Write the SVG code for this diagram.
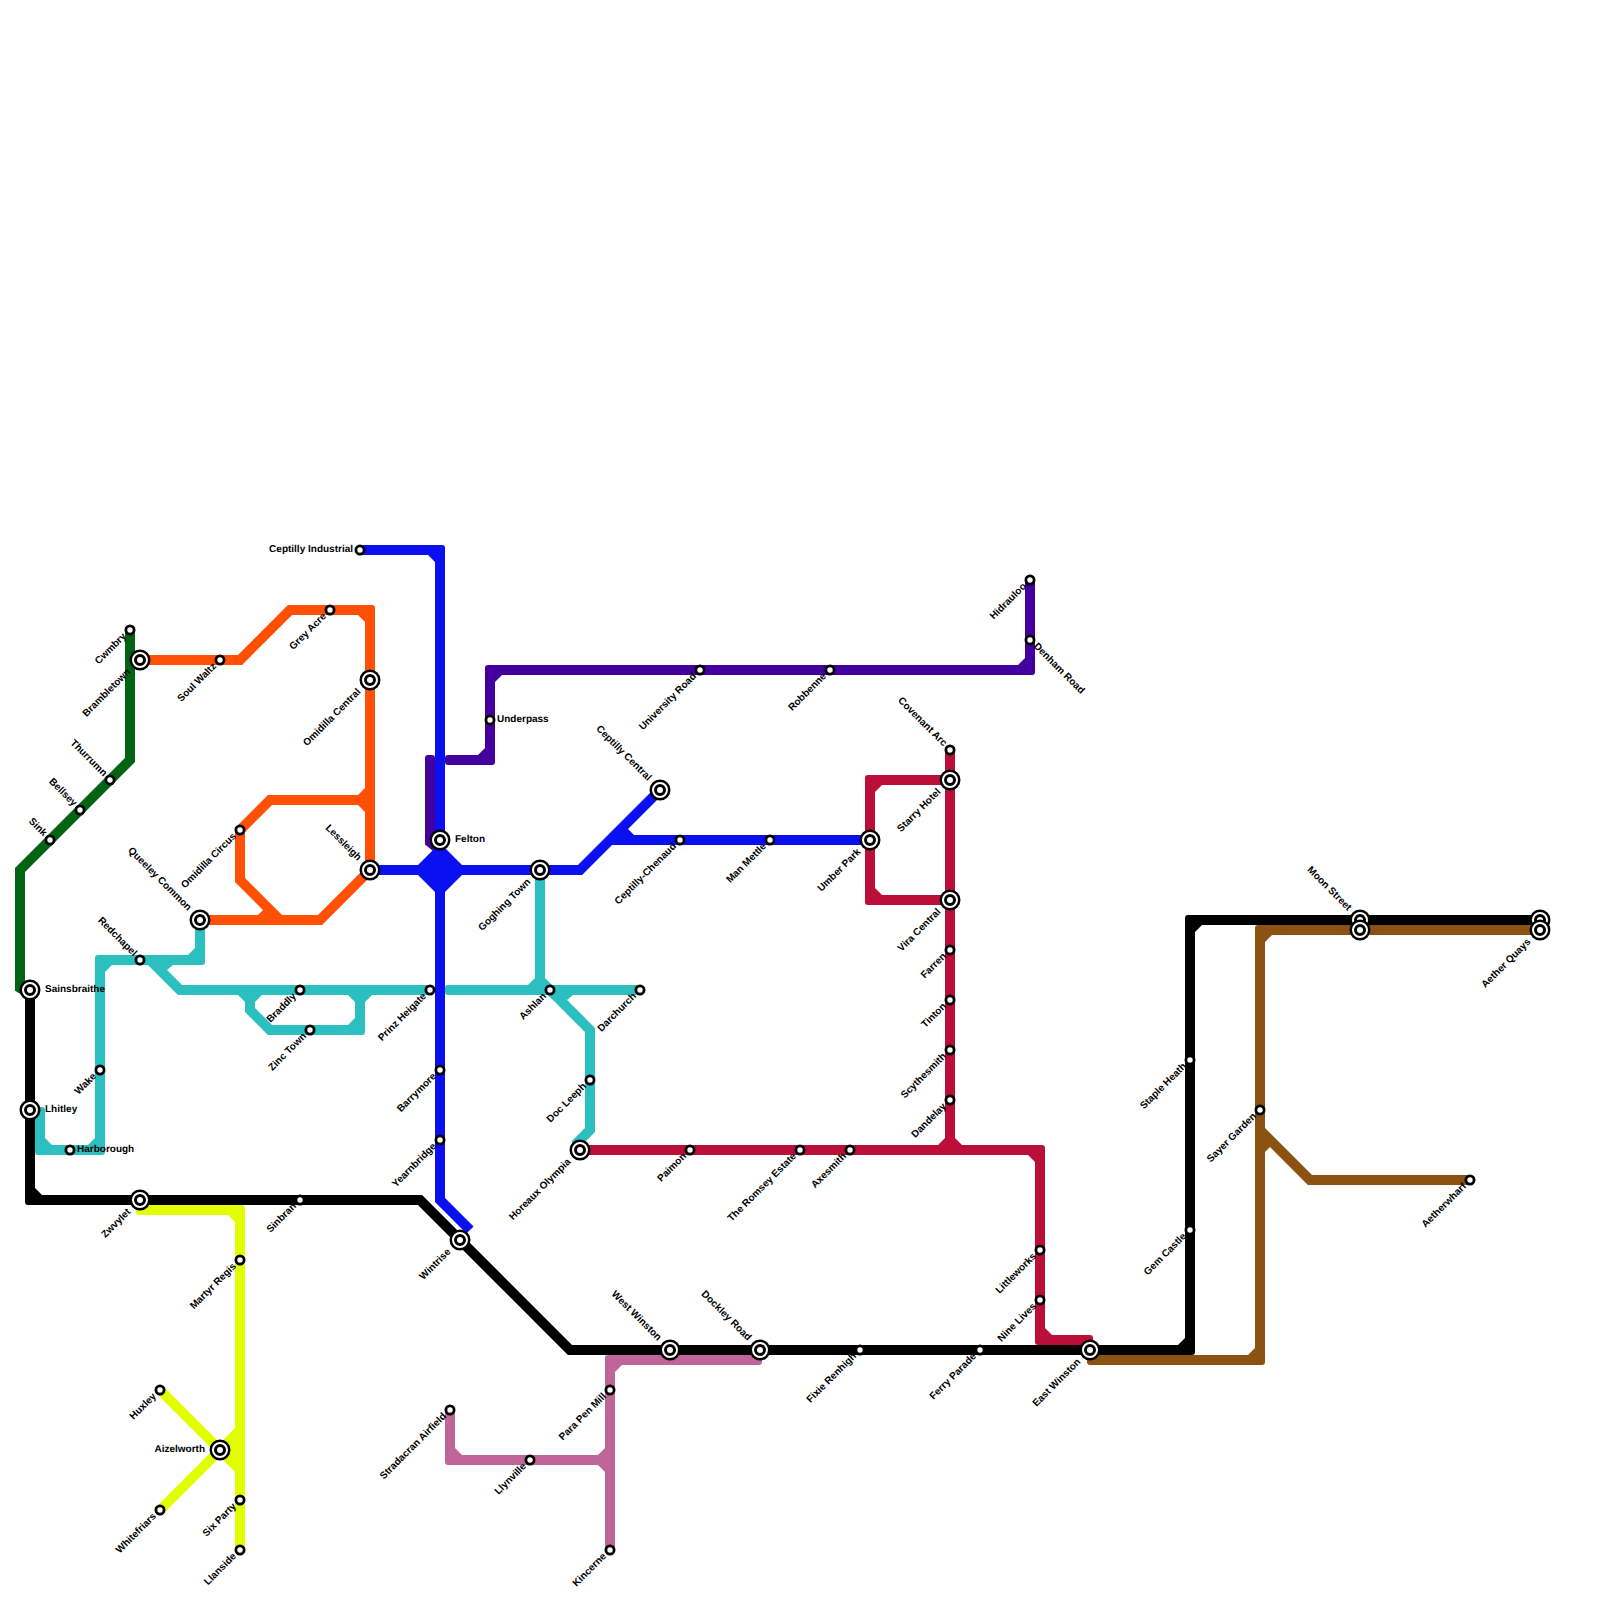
<svg xmlns="http://www.w3.org/2000/svg" width="1600" height="1600" viewBox="0 0 1600 1600">
<style>
.ln path{fill:none;stroke-width:10;stroke-linejoin:miter;stroke-linecap:butt}
.ln polygon{stroke:none}
.ln use{stroke:none}
.green{stroke:#006414;fill:#006414}
.orange{stroke:#ff5005;fill:#ff5005}
.teal{stroke:#2bbfc0;fill:#2bbfc0}
.blue{stroke:#0a10f0;fill:#0a10f0}
.purple{stroke:#44009f;fill:#44009f}
.crimson{stroke:#bb0f3a;fill:#bb0f3a}
.black{stroke:#000;fill:#000}
.brown{stroke:#8b5212;fill:#8b5212}
.lime{stroke:#e1ff00;fill:#e1ff00}
.pink{stroke:#c0659a;fill:#c0659a}
.st circle{fill:#fff;stroke:#000}
.st .o{stroke-width:2.5}
.st .i{stroke-width:3}
.sm circle{fill:#fff;stroke:#000;stroke-width:2.8}
text{font-family:"Liberation Sans",Arial,sans-serif;font-size:10px;font-weight:700;fill:#000;dominant-baseline:central;text-rendering:geometricPrecision}
.e{text-anchor:end}
.s{text-anchor:start}
</style>
<defs>
<g id="big" class="st"><circle class="o" r="9.25"/><circle class="i" r="4.5"/></g>
<g id="small" class="sm"><circle r="4.1"/></g>
<rect id="c" x="-5" y="-5" width="10" height="10" rx="3" stroke="none"/>
</defs>
<rect width="1600" height="1600" fill="#fff"/>
<g id="connectors">
<g class="ln lime"><path d="M141 1210H240M240 1210V1550"/><path d="M160 1390L220 1450L160 1510"/><use href="#c" x="141" y="1210"/><use href="#c" x="240" y="1210"/><polygon points="228,1215 235,1222 235,1215"/><polygon points="235,1428 213,1450 235,1472"/></g>
<g class="ln pink"><path d="M757 1360H610M610 1360V1550"/><path d="M450 1410V1460M450 1460H610"/><use href="#c" x="757" y="1360"/><use href="#c" x="610" y="1360"/><use href="#c" x="450" y="1460"/><polygon points="615,1372 622,1365 615,1365"/><polygon points="455,1448 462,1455 455,1455"/><polygon points="598,1455 605,1448 605,1455"/><polygon points="598,1465 605,1472 605,1465"/></g>
<g class="ln green"><path d="M130 630V760L20 870V988L30 994"/></g>
<g class="ln orange"><path d="M140 660H240L290 610H370M370 610V870"/><path d="M370 800H270L240 830V880L280 920"/><path d="M200 920H320L370 870"/><use href="#c" x="370" y="610"/><polygon points="358,615 365,622 365,615"/><polygon points="358,795 365,788 365,795"/><polygon points="358,805 365,812 365,805"/><polygon points="258,915 265,908 270,915"/></g>
<g class="ln purple"><path d="M430 760V842L440 850"/><path d="M450 760H490M490 760V670M490 670H1030M1030 670V580"/><use href="#c" x="430" y="760"/><use href="#c" x="450" y="760"/><use href="#c" x="490" y="760"/><use href="#c" x="490" y="670"/><use href="#c" x="1030" y="670"/><polygon points="478,755 485,748 485,755"/><polygon points="495,682 502,675 495,675"/><polygon points="1018,665 1025,658 1025,665"/></g>
<g class="ln teal"><path d="M200 920V960M200 960H100M100 960V1150M100 1150H40M40 1150V1112"/><path d="M150 960L180 990H430"/><path d="M250 990V1010L270 1030H360M360 1030V990"/><path d="M450 990H640"/><path d="M540 870V980L590 1030V1130L575 1145"/><use href="#c" x="200" y="960"/><use href="#c" x="100" y="960"/><use href="#c" x="100" y="1150"/><use href="#c" x="40" y="1150"/><use href="#c" x="40" y="1112"/><use href="#c" x="360" y="1030"/><use href="#c" x="450" y="990"/><polygon points="188,955 195,948 195,955"/><polygon points="105,972 112,965 105,965"/><polygon points="88,1145 95,1138 95,1145"/><polygon points="45,1138 52,1145 45,1145"/><polygon points="173,965 167,970 160,965"/><polygon points="238,995 245,1002 245,995"/><polygon points="262,995 255,1002 255,995"/><polygon points="348,995 355,1002 355,995"/><polygon points="372,995 365,1002 365,995"/><polygon points="348,1025 355,1018 355,1025"/><polygon points="528,985 535,978 541,985"/><polygon points="573,995 567,1000 560,995"/></g>
<g class="ln blue"><path d="M360 550H440M440 550V1200L470 1230"/><path d="M370 870H580L660 790"/><path d="M610 840H870"/><use href="#c" x="440" y="550"/><polygon points="428,555 435,562 435,555"/><polygon points="435,848 445,848 462,865 462,875 445,892 435,892 418,875 418,865"/><polygon points="627,828 634,835 618,835"/></g>
<g class="ln crimson"><path d="M950 750V1150"/><path d="M950 780H870M870 780V900M870 900H950"/><path d="M580 1150H1040M1040 1150V1340M1040 1340H1088"/><use href="#c" x="870" y="780"/><use href="#c" x="870" y="900"/><use href="#c" x="1040" y="1150"/><use href="#c" x="1040" y="1340"/><use href="#c" x="1088" y="1340"/><polygon points="875,792 882,785 875,785"/><polygon points="875,888 882,895 875,895"/><polygon points="938,1145 945,1138 945,1145"/><polygon points="962,1145 955,1138 955,1145"/><polygon points="1028,1155 1035,1162 1035,1155"/><polygon points="1045,1328 1052,1335 1045,1335"/></g>
<g class="ln black"><path d="M30 990V1200M30 1200H420L570 1350H1190M1190 1350V920M1190 920H1540"/><use href="#c" x="30" y="1200"/><use href="#c" x="1190" y="1350"/><use href="#c" x="1190" y="920"/><polygon points="35,1188 42,1195 35,1195"/><polygon points="1178,1345 1185,1338 1185,1345"/><polygon points="1195,932 1202,925 1195,925"/></g>
<g class="ln brown"><path d="M1092 1360H1260M1260 1360V930M1260 930H1540"/><path d="M1260 1130L1310 1180H1470"/><use href="#c" x="1092" y="1360"/><use href="#c" x="1260" y="1360"/><use href="#c" x="1260" y="930"/><polygon points="1248,1355 1255,1348 1255,1355"/><polygon points="1265,942 1272,935 1265,935"/><polygon points="1265,1142 1265,1152 1272,1145"/></g>
</g>
<g id="n-cwmbry"><use href="#small" x="130" y="630"/><text class="e" transform="translate(125 635) rotate(-45)">Cwmbry</text></g>
<g id="n-brambletown"><use href="#big" x="140" y="660"/><text class="e" transform="translate(129.4 670.6) rotate(-45)">Brambletown</text></g>
<g id="n-soul-waltz"><use href="#small" x="220" y="660"/><text class="e" transform="translate(215 665) rotate(-45)">Soul Waltz</text></g>
<g id="n-grey-acre"><use href="#small" x="330" y="610"/><text class="e" transform="translate(325 615) rotate(-45)">Grey Acre</text></g>
<g id="n-omidilla-central"><use href="#big" x="370" y="680"/><text class="e" transform="translate(359.4 690.6) rotate(-45)">Omidilla Central</text></g>
<g id="n-thurrumn"><use href="#small" x="110" y="780"/><text class="e" transform="translate(105 775) rotate(45)">Thurrumn</text></g>
<g id="n-bellsey"><use href="#small" x="80" y="810"/><text class="e" transform="translate(75 805) rotate(45)">Bellsey</text></g>
<g id="n-sink"><use href="#small" x="50" y="840"/><text class="e" transform="translate(45 835) rotate(45)">Sink</text></g>
<g id="n-omidilla-circus"><use href="#small" x="240" y="830"/><text class="e" transform="translate(235 835) rotate(-45)">Omidilla Circus</text></g>
<g id="n-lessleigh"><use href="#big" x="370" y="870"/><text class="e" transform="translate(359.4 859.4) rotate(45)">Lessleigh</text></g>
<g id="n-queeley-common"><use href="#big" x="200" y="920"/><text class="e" transform="translate(189.4 909.4) rotate(45)">Queeley Common</text></g>
<g id="n-redchapel"><use href="#small" x="140" y="960"/><text class="e" transform="translate(135 955) rotate(45)">Redchapel</text></g>
<g id="n-sainsbraithe"><use href="#big" x="30" y="990"/><text class="s" x="45" y="989.5">Sainsbraithe</text></g>
<g id="n-lhitley"><use href="#big" x="30" y="1110"/><text class="s" x="45" y="1109">Lhitley</text></g>
<g id="n-harborough"><use href="#small" x="70" y="1150"/><text class="s" x="77" y="1149">Harborough</text></g>
<g id="n-wake"><use href="#small" x="100" y="1070"/><text class="e" transform="translate(95 1075) rotate(-45)">Wake</text></g>
<g id="n-braddly"><use href="#small" x="300" y="990"/><text class="e" transform="translate(295 995) rotate(-45)">Braddly</text></g>
<g id="n-zinc-town"><use href="#small" x="310" y="1030"/><text class="e" transform="translate(305 1035) rotate(-45)">Zinc Town</text></g>
<g id="n-prinz-heigate"><use href="#small" x="430" y="990"/><text class="e" transform="translate(425 995) rotate(-45)">Prinz Heigate</text></g>
<g id="n-zwvylet"><use href="#big" x="140" y="1200"/><text class="e" transform="translate(129.4 1210.6) rotate(-45)">Zwvylet</text></g>
<g id="n-sinbran"><use href="#small" x="300" y="1200"/><text class="e" transform="translate(295 1205) rotate(-45)">Sinbran</text></g>
<g id="n-martyr-regis"><use href="#small" x="240" y="1260"/><text class="e" transform="translate(235 1265) rotate(-45)">Martyr Regis</text></g>
<g id="n-aizelworth"><use href="#big" x="220" y="1450"/><text class="e" x="205" y="1449">Aizelworth</text></g>
<g id="n-huxley"><use href="#small" x="160" y="1390"/><text class="e" transform="translate(155 1395) rotate(-45)">Huxley</text></g>
<g id="n-whitefriars"><use href="#small" x="160" y="1510"/><text class="e" transform="translate(155 1515) rotate(-45)">Whitefriars</text></g>
<g id="n-six-party"><use href="#small" x="240" y="1500"/><text class="e" transform="translate(235 1505) rotate(-45)">Six Party</text></g>
<g id="n-llanside"><use href="#small" x="240" y="1550"/><text class="e" transform="translate(235 1555) rotate(-45)">Llanside</text></g>
<g id="n-ceptilly-industrial"><use href="#small" x="360" y="550"/><text class="e" x="353" y="549">Ceptilly Industrial</text></g>
<g id="n-felton"><use href="#big" x="440" y="840"/><text class="s" x="455" y="839">Felton</text></g>
<g id="n-barrymore"><use href="#small" x="440" y="1070"/><text class="e" transform="translate(435 1075) rotate(-45)">Barrymore</text></g>
<g id="n-yearnbridge"><use href="#small" x="440" y="1140"/><text class="e" transform="translate(435 1145) rotate(-45)">Yearnbridge</text></g>
<g id="n-wintrise"><use href="#big" x="460" y="1240"/><text class="e" transform="translate(449.4 1250.6) rotate(-45)">Wintrise</text></g>
<g id="n-underpass"><use href="#small" x="490" y="720"/><text class="s" x="497" y="719">Underpass</text></g>
<g id="n-goghing-town"><use href="#big" x="540" y="870"/><text class="e" transform="translate(529.4 880.6) rotate(-45)">Goghing Town</text></g>
<g id="n-ashlan"><use href="#small" x="550" y="990"/><text class="e" transform="translate(545 995) rotate(-45)">Ashlan</text></g>
<g id="n-darchurch"><use href="#small" x="640" y="990"/><text class="e" transform="translate(635 995) rotate(-45)">Darchurch</text></g>
<g id="n-doc-leeph"><use href="#small" x="590" y="1080"/><text class="e" transform="translate(585 1085) rotate(-45)">Doc Leeph</text></g>
<g id="n-horeaux-olympia"><use href="#big" x="580" y="1150"/><text class="e" transform="translate(569.4 1160.6) rotate(-45)">Horeaux Olympia</text></g>
<g id="n-paimon"><use href="#small" x="690" y="1150"/><text class="e" transform="translate(685 1155) rotate(-45)">Paimon</text></g>
<g id="n-ceptilly-central"><use href="#big" x="660" y="790"/><text class="e" transform="translate(649.4 779.4) rotate(45)">Ceptilly Central</text></g>
<g id="n-ceptilly-chenaud"><use href="#small" x="680" y="840"/><text class="e" transform="translate(675 845) rotate(-45)">Ceptilly-Chenaud</text></g>
<g id="n-university-road"><use href="#small" x="700" y="670"/><text class="e" transform="translate(695 675) rotate(-45)">University Road</text></g>
<g id="n-man-mettle"><use href="#small" x="770" y="840"/><text class="e" transform="translate(765 845) rotate(-45)">Man Mettle</text></g>
<g id="n-robbenne"><use href="#small" x="830" y="670"/><text class="e" transform="translate(825 675) rotate(-45)">Robbenne</text></g>
<g id="n-umber-park"><use href="#big" x="870" y="840"/><text class="e" transform="translate(859.4 850.6) rotate(-45)">Umber Park</text></g>
<g id="n-covenant-arc"><use href="#small" x="950" y="750"/><text class="e" transform="translate(945 745) rotate(45)">Covenant Arc</text></g>
<g id="n-starry-hotel"><use href="#big" x="950" y="780"/><text class="e" transform="translate(939.4 790.6) rotate(-45)">Starry Hotel</text></g>
<g id="n-vira-central"><use href="#big" x="950" y="900"/><text class="e" transform="translate(939.4 910.6) rotate(-45)">Vira Central</text></g>
<g id="n-farren"><use href="#small" x="950" y="950"/><text class="e" transform="translate(945 955) rotate(-45)">Farren</text></g>
<g id="n-tinton"><use href="#small" x="950" y="1000"/><text class="e" transform="translate(945 1005) rotate(-45)">Tinton</text></g>
<g id="n-scythesmith"><use href="#small" x="950" y="1050"/><text class="e" transform="translate(945 1055) rotate(-45)">Scythesmith</text></g>
<g id="n-dandelay"><use href="#small" x="950" y="1100"/><text class="e" transform="translate(945 1105) rotate(-45)">Dandelay</text></g>
<g id="n-hidrauloo"><use href="#small" x="1030" y="580"/><text class="e" transform="translate(1025 585) rotate(-45)">Hidrauloo</text></g>
<g id="n-denham-road"><use href="#small" x="1030" y="640"/><text class="s" transform="translate(1035 645) rotate(45)">Denham Road</text></g>
<g id="n-romsey-estate"><use href="#small" x="800" y="1150"/><text class="e" transform="translate(795 1155) rotate(-45)">The Romsey Estate</text></g>
<g id="n-axesmith"><use href="#small" x="850" y="1150"/><text class="e" transform="translate(845 1155) rotate(-45)">Axesmith</text></g>
<g id="n-littleworks"><use href="#small" x="1040" y="1250"/><text class="e" transform="translate(1035 1255) rotate(-45)">Littleworks</text></g>
<g id="n-nine-lives"><use href="#small" x="1040" y="1300"/><text class="e" transform="translate(1035 1305) rotate(-45)">Nine Lives</text></g>
<g id="n-stradacran-airfield"><use href="#small" x="450" y="1410"/><text class="e" transform="translate(445 1415) rotate(-45)">Stradacran Airfield</text></g>
<g id="n-llynville"><use href="#small" x="530" y="1460"/><text class="e" transform="translate(525 1465) rotate(-45)">Llynville</text></g>
<g id="n-para-pen-mill"><use href="#small" x="610" y="1390"/><text class="e" transform="translate(605 1395) rotate(-45)">Para Pen Mill</text></g>
<g id="n-kincerne"><use href="#small" x="610" y="1550"/><text class="e" transform="translate(605 1555) rotate(-45)">Kincerne</text></g>
<g id="n-west-winston"><use href="#big" x="670" y="1350"/><text class="e" transform="translate(659.4 1339.4) rotate(45)">West Winston</text></g>
<g id="n-dockley-road"><use href="#big" x="760" y="1350"/><text class="e" transform="translate(749.4 1339.4) rotate(45)">Dockley Road</text></g>
<g id="n-fixie-renhigh"><use href="#small" x="860" y="1350"/><text class="e" transform="translate(855 1355) rotate(-45)">Fixie Renhigh</text></g>
<g id="n-ferry-parade"><use href="#small" x="980" y="1350"/><text class="e" transform="translate(975 1355) rotate(-45)">Ferry Parade</text></g>
<g id="n-east-winston"><use href="#big" x="1090" y="1350"/><text class="e" transform="translate(1079.4 1360.6) rotate(-45)">East Winston</text></g>
<g id="n-staple-heath"><use href="#small" x="1190" y="1060"/><text class="e" transform="translate(1185 1065) rotate(-45)">Staple Heath</text></g>
<g id="n-gem-castle"><use href="#small" x="1190" y="1230"/><text class="e" transform="translate(1185 1235) rotate(-45)">Gem Castle</text></g>
<g id="n-sayer-garden"><use href="#small" x="1260" y="1110"/><text class="e" transform="translate(1255 1115) rotate(-45)">Sayer Garden</text></g>
<g id="n-aetherwharf"><use href="#small" x="1470" y="1180"/><text class="e" transform="translate(1465 1185) rotate(-45)">Aetherwharf</text></g>
<g id="n-moon-street"><use href="#big" x="1360" y="920"/><text class="e" transform="translate(1349.4 909.4) rotate(45)">Moon Street</text></g>
<g id="n-moon-street-2"><use href="#big" x="1360" y="930"/></g>
<g id="n-aether-quays-2"><use href="#big" x="1540" y="920"/></g>
<g id="n-aether-quays"><use href="#big" x="1540" y="930"/><text class="e" transform="translate(1529.4 940.6) rotate(-45)">Aether Quays</text></g>
</svg>
